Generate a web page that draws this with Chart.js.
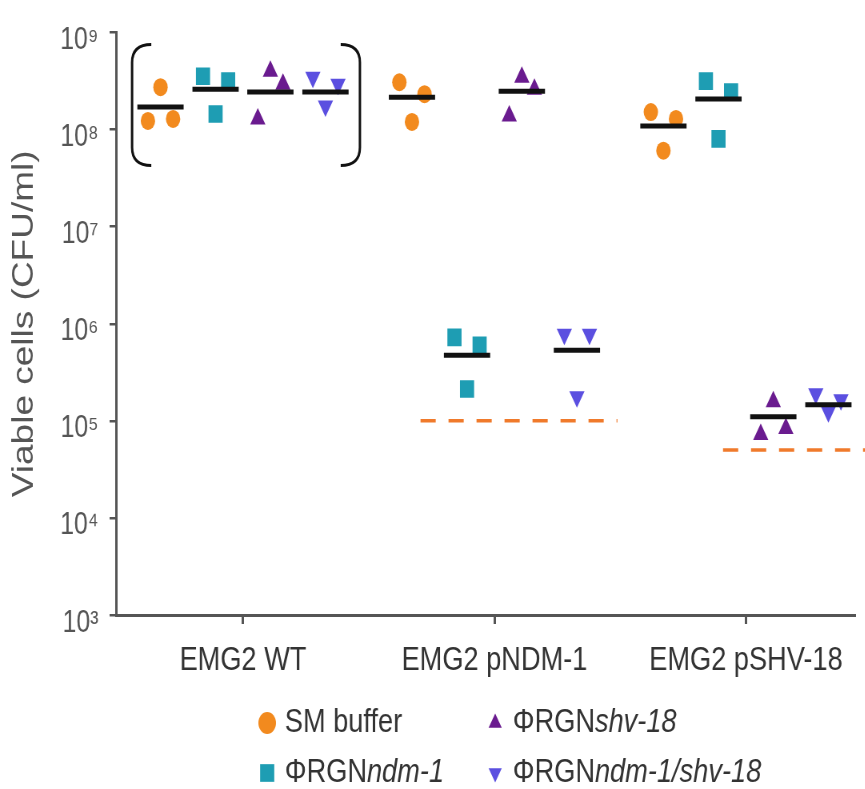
<!DOCTYPE html>
<html>
<head>
<meta charset="utf-8">
<script src="https://cdn.jsdelivr.net/npm/chart.js@4.4.0/dist/chart.umd.min.js"></script>
<style>
  html, body { margin: 0; padding: 0; background: #fff; overflow: hidden; }
  #wrap { width: 865px; height: 789px; overflow: hidden; position: relative; }
  /* the source figure is squeezed sideways, so draw wide and compress */
  #chart { position: absolute; left: 0; top: 0; transform: scaleX(0.8); transform-origin: 0 0; }
</style>
</head>
<body>
<div id="wrap"><canvas id="chart" width="1081" height="789"></canvas></div>
<script>
var groups = ['EMG2 WT', 'EMG2 pNDM-1', 'EMG2 pSHV-18'];
var seriesNames = ['SM buffer', 'ΦRGN', 'ΦRGN', 'ΦRGN'];
var seriesItalic = ['', 'ndm-1', 'shv-18', 'ndm-1/shv-18'];
var seriesColors = ['#f28a1e', '#1e9db3', '#6a1b8f', '#5b4fe0'];
var yTickPowers = [3, 4, 5, 6, 7, 8, 9];

// viable cells (CFU/ml), three replicates per strain, left to right as plotted
var smBuffer  = [[1.23e8, 2.74e8, 1.29e8], [3.08e8, 1.20e8, 2.32e8], [1.52e8, 6.07e7, 1.29e8]];
var rgnNdm    = [[3.55e8, 1.45e8, 3.16e8], [7.26e5, 2.13e5, 6.01e5], [3.16e8, 8.05e7, 2.44e8]];
var rgnShv    = [[1.29e8, 3.99e8, 2.94e8], [1.38e8, 3.47e8, 2.61e8], [7.22e4, 1.57e5, 8.32e4]];
var rgnNdmShv = [[3.47e8, 1.75e8, 2.94e8], [7.80e5, 1.77e5, 7.80e5], [1.90e5, 1.24e5, 1.65e5]];

// black bars
var smBufferMean  = [1.71e8, 2.16e8, 1.09e8];
var rgnNdmMean    = [2.61e8, 4.75e5, 2.07e8];
var rgnShvMean    = [2.44e8, 2.49e8, 1.10e5];
var rgnNdmShvMean = [2.44e8, 5.35e5, 1.47e5];

// detection limits (orange dashes): [x from, x to, value]
var limitNdm = [0.706, 1.489, 1e5];
var limitShv = [1.909, 2.473, 5e4];

// bracket round the WT group: [x left, x right, y low, y high]
var bracketBox = [-0.441, 0.465, 4.27e7, 7.54e8];

var FONT = '"Liberation Sans", Arial, Helvetica, sans-serif';
Chart.defaults.font.family = FONT;

var allSeries = [smBuffer, rgnNdm, rgnShv, rgnNdmShv];
var allMeans = [smBufferMean, rgnNdmMean, rgnShvMean, rgnNdmShvMean];
var offsets = [-0.328, -0.109, 0.109, 0.328];
var jitter = [-0.05, 0, 0.05];
var styles = ['circle', 'rect', 'triangle', 'triangle'];
var rotations = [0, 0, 0, 180];
var radii = [9, 12.5, 11, 11];
var sup = { 3: '\u00b3', 4: '\u2074', 5: '\u2075', 6: '\u2076', 7: '\u2077', 8: '\u2078', 9: '\u2079' };

var datasets = [];

allSeries.forEach(function (s, i) {
    var pts = [];
    s.forEach(function (reps, g) {
        reps.forEach(function (v, k) {
            pts.push({ x: g + offsets[i] + jitter[k], y: v });
        });
    });
    datasets.push({
        label: seriesNames[i] + seriesItalic[i],
        data: pts,
        pointStyle: styles[i],
        pointRotation: rotations[i],
        pointRadius: radii[i],
        backgroundColor: seriesColors[i],
        borderWidth: 0,
        order: 1
    });
});

allMeans.forEach(function (m, i) {
    m.forEach(function (v, g) {
        var c = g + offsets[i];
        datasets.push({
            data: [{ x: c - 0.092, y: v }, { x: c + 0.092, y: v }],
            showLine: true,
            borderColor: '#111',
            borderWidth: 5,
            pointRadius: 0,
            order: 0
        });
    });
});

[limitNdm, limitShv].forEach(function (l) {
    datasets.push({
        data: [{ x: l[0], y: l[2] }, { x: l[1], y: l[2] }],
        showLine: true,
        borderColor: '#f07a2b',
        borderWidth: 3.5,
        borderDash: [19, 16],
        pointRadius: 0,
        clip: false,
        order: 2
    });
});

var overlay = {
    id: 'overlay',
    afterDraw: function (chart) {
        var ctx = chart.ctx, xs = chart.scales.x, ys = chart.scales.y;

        // bracket
        var L = xs.getPixelForValue(bracketBox[0]), R = xs.getPixelForValue(bracketBox[1]);
        var top = ys.getPixelForValue(bracketBox[3]), bot = ys.getPixelForValue(bracketBox[2]);
        var arm = 24, r = 18;
        ctx.save();
        ctx.strokeStyle = '#111';
        ctx.lineWidth = 3;
        ctx.beginPath();
        ctx.moveTo(L + arm, top);
        ctx.quadraticCurveTo(L, top, L, top + r);
        ctx.lineTo(L, bot - r);
        ctx.quadraticCurveTo(L, bot, L + arm, bot);
        ctx.moveTo(R - arm, top);
        ctx.quadraticCurveTo(R, top, R, top + r);
        ctx.lineTo(R, bot - r);
        ctx.quadraticCurveTo(R, bot, R - arm, bot);
        ctx.stroke();

        // legend, two columns
        var order = [0, 2, 1, 3];
        var colX = [334, 619], rowY = [723, 773];
        var legR = [11, 12.5, 9.5, 9.5];
        order.forEach(function (i, n) {
            var x = colX[n % 2], y = rowY[Math.floor(n / 2)];
            ctx.fillStyle = seriesColors[i];
            Chart.helpers.drawPoint(ctx, { pointStyle: styles[i], rotation: rotations[i], radius: legR[i], borderWidth: 0 }, x, y);
            ctx.fillStyle = '#333';
            ctx.textBaseline = 'middle';
            ctx.textAlign = 'left';
            ctx.font = '34px ' + FONT;
            var tx = x + 22;
            ctx.fillText(seriesNames[i], tx, y);
            tx += ctx.measureText(seriesNames[i]).width;
            ctx.font = 'italic 34px ' + FONT;
            ctx.fillText(seriesItalic[i], tx, y);
        });
        ctx.restore();
    }
};

new Chart(document.getElementById('chart'), {
    type: 'scatter',
    data: { datasets: datasets },
    options: {
        responsive: false,
        animation: false,
        layout: { padding: { top: 28, right: 12, left: 0, bottom: 0 } },
        plugins: { legend: { display: false }, tooltip: { enabled: false } },
        scales: {
            x: {
                type: 'linear',
                min: -0.505,
                max: 2.433,
                afterBuildTicks: function (s) {
                    s.ticks = groups.map(function (g, i) { return { value: i }; });
                },
                afterFit: function (s) { s.height = 789 - 615; },
                ticks: {
                    callback: function (v) { return groups[v]; },
                    font: { size: 34 },
                    color: '#333',
                    padding: 16,
                    maxRotation: 0,
                    autoSkip: false
                },
                grid: { drawOnChartArea: false, tickLength: 9, color: '#555', lineWidth: 3 },
                border: { display: true, color: '#555', width: 3 }
            },
            y: {
                type: 'logarithmic',
                min: 1e3,
                max: 1e9,
                afterBuildTicks: function (s) {
                    s.ticks = yTickPowers.map(function (p) { return { value: Math.pow(10, p) }; });
                },
                afterFit: function (s) { s.width = 145; },
                ticks: {
                    callback: function (v) { return '10' + sup[Math.round(Math.log10(v))]; },
                    font: { size: 31 },
                    color: '#555',
                    padding: 14,
                    labelOffset: 8
                },
                grid: { drawOnChartArea: false, tickLength: 8, color: '#555', lineWidth: 2.5 },
                border: { display: true, color: '#555', width: 3 },
                title: {
                    display: true,
                    text: 'Viable cells (CFU/ml)',
                    font: { size: 37 },
                    color: '#555',
                    padding: { top: 9, bottom: 0 }
                }
            }
        }
    },
    plugins: [overlay]
});
</script>
</body>
</html>
